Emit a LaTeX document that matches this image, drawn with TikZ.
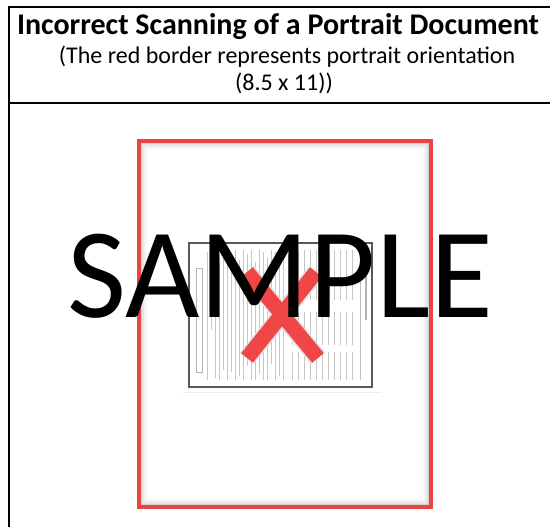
\documentclass[tikz,border=0pt]{standalone}
\usepackage{fontspec}
\setmainfont{Carlito}
\definecolor{pagered}{RGB}{236,68,68}
\definecolor{xred}{RGB}{240,70,70}
\begin{document}
\begin{tikzpicture}[x=1pt,y=-1pt,
  frameline/.style={line width=2pt,black},
  redframe/.style={line width=4pt,draw=pagered},
  scanline/.style={line width=0.9pt,gray!45},
  xstroke/.style={line width=15pt,draw=xred,line cap=butt}]
\useasboundingbox (0,0) rectangle (550,527);
% outer table frame
\coordinate (tl) at (9,7);
\coordinate (tr) at (551,7);
\coordinate (bl) at (9,528);
\coordinate (dl) at (9,103);
\coordinate (dr) at (551,103);
\draw[frameline] (tr) -- (tl) -- (bl);
\draw[frameline] (dl) -- (dr);
% header text
\node[anchor=base,font=\fontsize{30}{34}\selectfont\bfseries] (title) at (278,35) {Incorrect Scanning of a Portrait Document};
\node[anchor=base,font=\fontsize{24}{28}\selectfont] (sub1) at (287,64) {(The red border represents portrait orientation};
\node[anchor=base,font=\fontsize{24}{28}\selectfont] (sub2) at (284,91) {(8.5 x 11))};
% inner shadow of page
\foreach \i/\o in {0/0.18,2/0.10,4/0.05,6/0.025}{
  \draw[line width=2pt,black,opacity=\o] (141+\i,143+\i) rectangle (429-\i,505-\i);
}
% red page border
\draw[redframe] (139,141) rectangle (431,507);
% scanned landscape document
\draw[gray!15,line width=1pt] (183,392) -- (382,392);
\draw[line width=1.2pt,gray!70!black,fill=white] (189,243) rectangle (372,387);
\draw[line width=0.8pt,gray!60] (196,268) rectangle (202,372);
\foreach \x/\a/\b in {207/252/380,211/255/330,215/250/378,219/262/380,223/250/370,227/252/380,231/256/372,235/250/380,239/260/376,243/250/380,247/254/366,251/250/380,255/262/380,259/250/374,263/252/380,267/258/380,271/250/364,275/252/380,279/256/376,283/250/380}{
  \draw[scanline] (\x,\a) -- (\x,\b);
}
\foreach \x in {292,298,304,310,316,322,328,334,340,346,352}{
  \draw[scanline] (\x,250) -- (\x,300);
  \draw[scanline] (\x,312) -- (\x,345);
  \draw[scanline] (\x,352) -- (\x,380);
}
\draw[line width=1.5pt,gray!60] (366,255) -- (366,320);
\draw[line width=0.8pt,gray!50] (360,250) -- (360,380);
% red X
\coordinate (x1) at (247,272);
\coordinate (x2) at (318,358);
\coordinate (x3) at (316,272);
\coordinate (x4) at (247,358);
\draw[line width=18pt,gray!25,line cap=butt] (x1) -- (x2);
\draw[line width=18pt,gray!25,line cap=butt] (x3) -- (x4);
\draw[xstroke] (x1) -- (x2);
\draw[xstroke] (x3) -- (x4);
% watermark
\node[anchor=base,font=\fontsize{128.5}{130}\selectfont] (sample) at (280,317) {SAMPLE};
\end{tikzpicture}
\end{document}
